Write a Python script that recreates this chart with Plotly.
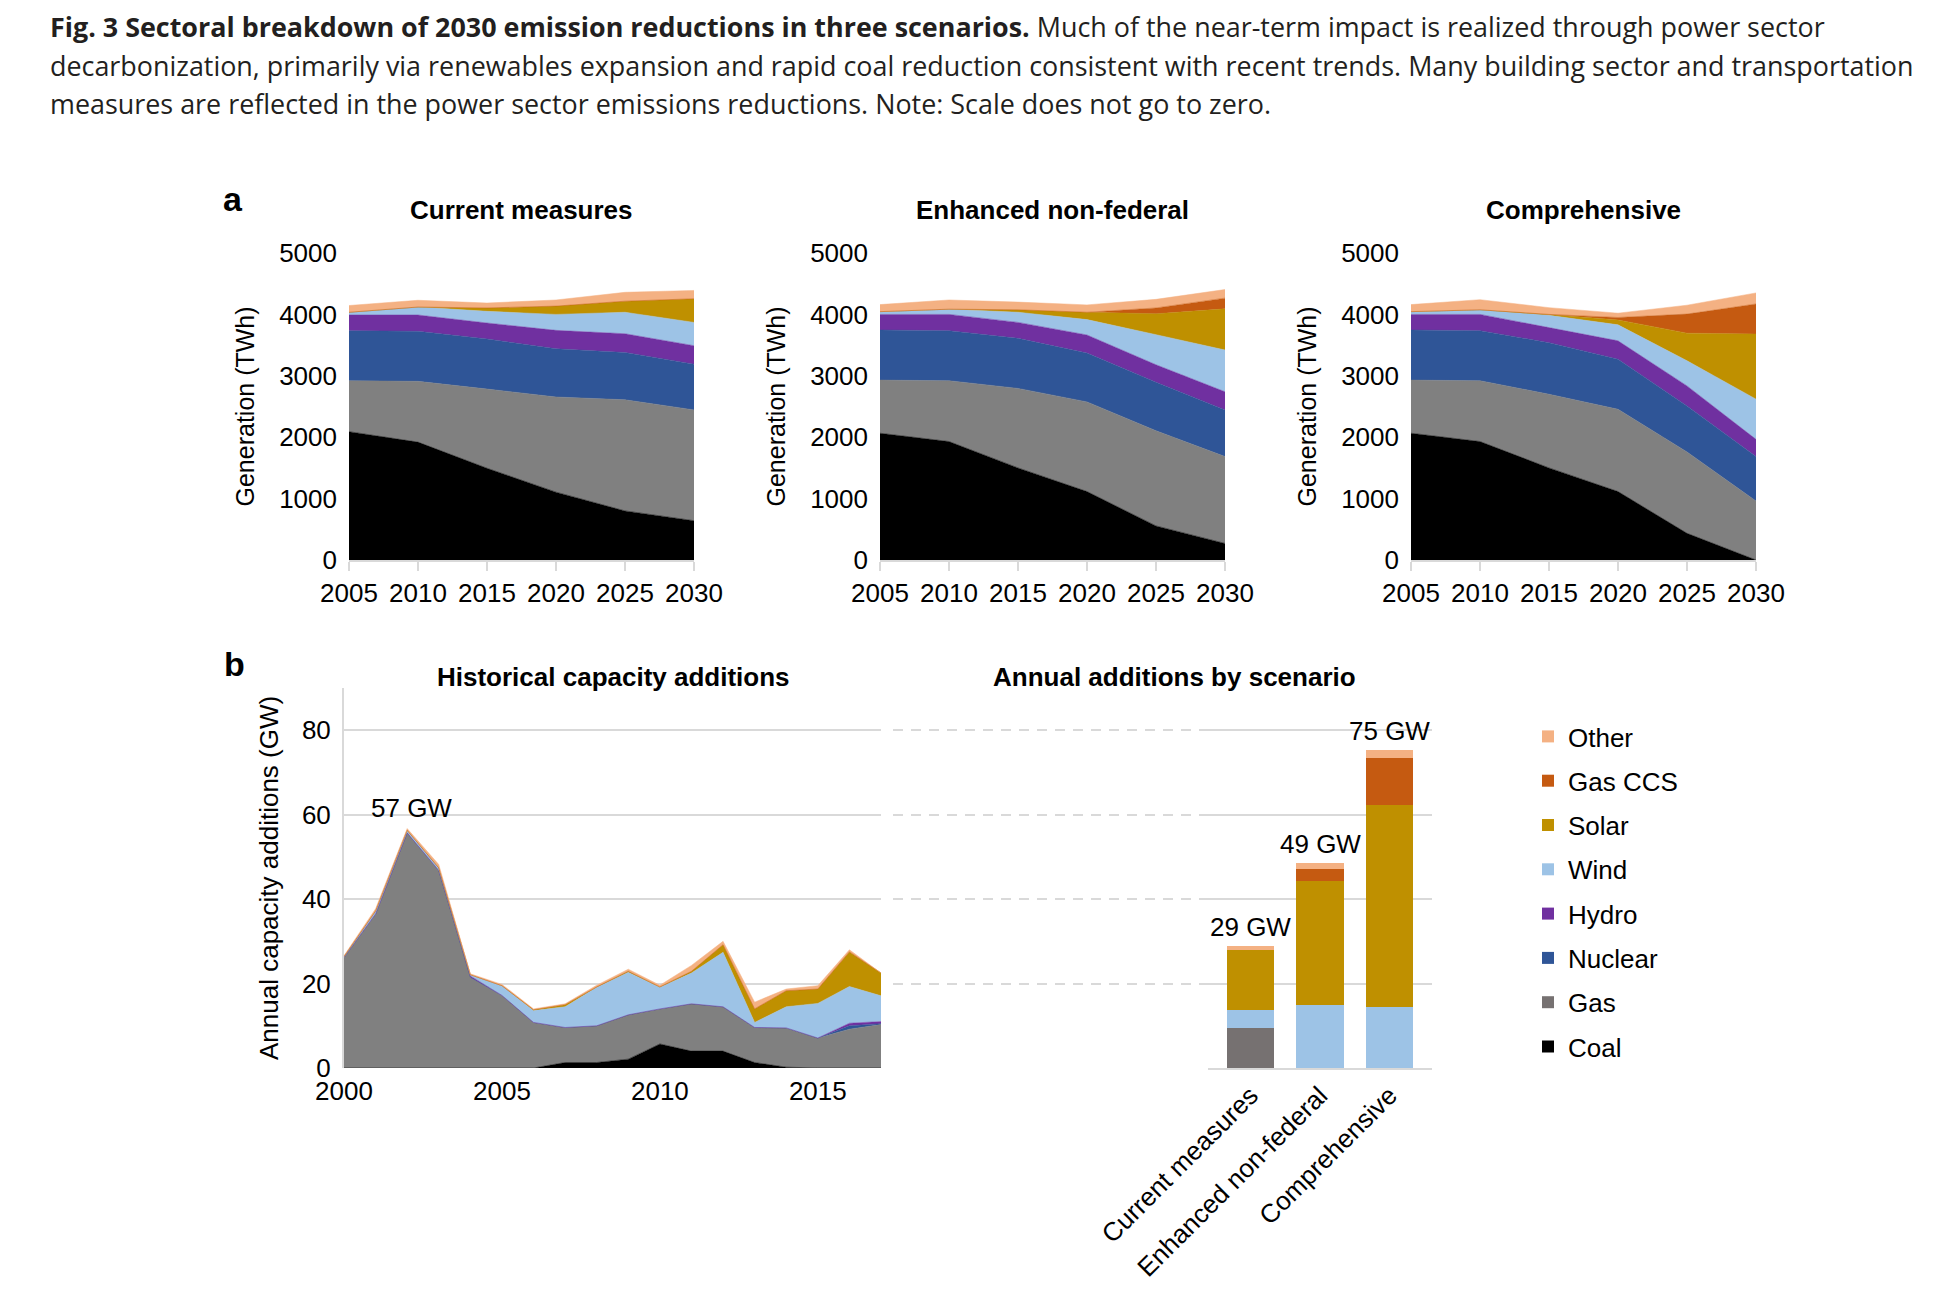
import plotly.graph_objects as go

W, H = 1948, 1294

# ---------------- data ----------------
years_a = [2005, 2010, 2015, 2020, 2025, 2030]
sources = ["Coal", "Gas", "Nuclear", "Hydro", "Wind", "Solar", "Gas CCS", "Other"]
source_colors = ["#000000", "#808080", "#2F5597", "#7030A0", "#9DC3E6", "#BF9000", "#C55A11", "#F4B183"]

# Current measures (TWh)
cm_coal = [2090, 1920, 1495, 1105, 800, 640]
cm_gas = [830, 990, 1290, 1550, 1810, 1805]
cm_nuclear = [815, 815, 815, 785, 770, 745]
cm_hydro = [255, 265, 260, 300, 305, 300]
cm_wind = [45, 130, 190, 260, 350, 380]
cm_solar = [0, 0, 55, 135, 180, 385]
cm_gasccs = [0, 0, 0, 0, 0, 0]
cm_other = [110, 110, 80, 100, 145, 135]

# Enhanced non-federal (TWh)
enf_coal = [2065, 1930, 1500, 1115, 555, 270]
enf_gas = [865, 990, 1295, 1460, 1550, 1415]
enf_nuclear = [815, 815, 815, 795, 790, 760]
enf_hydro = [255, 265, 260, 295, 285, 295]
enf_wind = [45, 85, 165, 250, 490, 680]
enf_solar = [0, 0, 40, 120, 340, 670]
enf_gasccs = [0, 0, 0, 0, 95, 175]
enf_other = [115, 150, 125, 120, 140, 140]

# Comprehensive (TWh)
comp_coal = [2065, 1930, 1500, 1115, 435, 0]
comp_gas = [865, 990, 1200, 1340, 1325, 960]
comp_nuclear = [815, 815, 840, 815, 750, 725]
comp_hydro = [255, 265, 245, 300, 325, 280]
comp_wind = [45, 75, 200, 260, 410, 655]
comp_solar = [0, 0, 15, 80, 450, 1060]
comp_gasccs = [0, 0, 0, 40, 310, 490]
comp_other = [115, 165, 110, 70, 145, 180]

# Historical capacity additions (GW)
years_b = list(range(2000, 2018))
hist_coal = [0, 0, 0, 0, 0, 0, 0, 1.3, 1.3, 2.1, 5.7, 4.0, 4.0, 1.3, 0.2, 0, 0, 0]
hist_gas = [26.2, 36.5, 55.7, 46.8, 21.5, 17.2, 10.8, 8.3, 8.7, 10.5, 8.3, 11.2, 10.5, 8.3, 9.3, 7.1, 9.2, 10.3]
hist_nuclear = [0, 0, 0, 0, 0, 0, 0, 0, 0, 0, 0, 0, 0, 0, 0, 0, 0.8, 0.2]
hist_hydro = [0, 0, 0, 0, 0.3, 0, 0, 0, 0, 0, 0, 0, 0, 0, 0, 0, 0.6, 0.5]
hist_wind = [0.2, 0.7, 0.6, 0.6, 0.3, 2.3, 2.8, 4.9, 9.1, 10.1, 5.1, 7.3, 12.9, 1.2, 5.0, 8.2, 8.7, 6.1]
hist_solar = [0, 0, 0, 0, 0, 0, 0.2, 0.5, 0.1, 0.2, 0.1, 0.4, 1.8, 3.2, 3.8, 3.4, 8.2, 5.4]
hist_gasccs = [0] * 18
hist_other = [0.2, 0.5, 0.4, 0.8, 0.2, 0.3, 0.2, 0.2, 0.4, 0.5, 0.4, 1.4, 0.8, 1.6, 0.4, 0.8, 0.5, 0.0]

# Annual additions by scenario (GW)
bar_categories = ["Current measures", "Enhanced non-federal", "Comprehensive"]
bar_coal = [0, 0, 0]
bar_gas = [9.4, 0, 0]
bar_nuclear = [0, 0, 0]
bar_hydro = [0, 0, 0]
bar_wind = [4.3, 14.9, 14.4]
bar_solar = [14.2, 29.5, 47.9]
bar_gasccs = [0, 2.8, 11.1]
bar_other = [0.9, 1.4, 1.8]
bar_total_labels = ["29 GW", "49 GW", "75 GW"]

scenario_titles = ["Current measures", "Enhanced non-federal", "Comprehensive"]
gen_ticks = [0, 1000, 2000, 3000, 4000, 5000]
cap_ticks = [0, 20, 40, 60, 80]
hist_ticks = [2000, 2005, 2010, 2015]

caption_lines = [
    "<b>Fig. 3 Sectoral breakdown of 2030 emission reductions in three scenarios.</b> Much of the near-term impact is realized through power sector",
    "decarbonization, primarily via renewables expansion and rapid coal reduction consistent with recent trends. Many building sector and transportation",
    "measures are reflected in the power sector emissions reductions. Note: Scale does not go to zero.",
]

# ---------------- figure ----------------
FONT = "Liberation Sans, Arial, sans-serif"
GRID = "#d9d9d9"
fig = go.Figure()

n_src = len(sources)
scen_series = [
    [cm_coal, cm_gas, cm_nuclear, cm_hydro, cm_wind, cm_solar, cm_gasccs, cm_other],
    [enf_coal, enf_gas, enf_nuclear, enf_hydro, enf_wind, enf_solar, enf_gasccs, enf_other],
    [comp_coal, comp_gas, comp_nuclear, comp_hydro, comp_wind, comp_solar, comp_gasccs, comp_other],
]
for i, series in enumerate(scen_series):
    ax = "" if i == 0 else str(i + 1)
    for k, (name, vals, col) in enumerate(zip(sources, series, source_colors)):
        fig.add_trace(go.Scatter(
            x=years_a, y=vals, name=name, mode="lines", stackgroup=f"a{i}",
            line=dict(width=0.5, color=col), fillcolor=col,
            xaxis="x" + ax, yaxis="y" + ax, showlegend=False, legendgroup=name,
            legendrank=n_src - k,
        ))

hist_series = [hist_coal, hist_gas, hist_nuclear, hist_hydro, hist_wind, hist_solar, hist_gasccs, hist_other]
for k, (name, vals, col) in enumerate(zip(sources, hist_series, source_colors)):
    fig.add_trace(go.Scatter(
        x=years_b, y=vals, name=name, mode="lines", stackgroup="hist",
        line=dict(width=0.5, color=col), fillcolor=col,
        xaxis="x4", yaxis="y4", showlegend=False, legendgroup=name,
        legendrank=n_src - k,
    ))

# empty trace so the dashed connector grid is drawn
fig.add_trace(go.Scatter(x=[], y=[], xaxis="x5", yaxis="y5", showlegend=False))

bar_series = [bar_coal, bar_gas, bar_nuclear, bar_hydro, bar_wind, bar_solar, bar_gasccs, bar_other]
bar_colors = list(source_colors)
bar_colors[1] = "#767171"
for k, (name, vals, col) in enumerate(zip(sources, bar_series, bar_colors)):
    fig.add_trace(go.Bar(
        x=bar_categories, y=vals, name=name, marker=dict(color=col, line=dict(width=0)),
        xaxis="x6", yaxis="y6", showlegend=True, legendgroup=name,
        legendrank=n_src - k,
    ))

OFF = 8  # page body margin of the exported html


def px_x(p):
    return (p - OFF) / W


def px_y(p):
    return 1 - (p - OFF) / H


a_left = [349, 880, 1411]
a_w = 345
a_top, a_bot = 253, 560
tick_font = dict(family=FONT, size=26, color="black")

layout = dict(
    width=W, height=H, margin=dict(l=0, r=0, t=0, b=0, autoexpand=False),
    paper_bgcolor="white", plot_bgcolor="white",
    barmode="stack", bargap=0.32,
    font=dict(family=FONT, size=26, color="black"),
    showlegend=True,
    legend=dict(x=px_x(1528), y=px_y(713), xanchor="left", yanchor="top",
                traceorder="grouped", tracegroupgap=7.5,
                font=dict(family=FONT, size=26, color="black"),
                bgcolor="rgba(0,0,0,0)"),
)

for i in range(3):
    ax = "" if i == 0 else str(i + 1)
    layout["xaxis" + ax] = dict(
        domain=[px_x(a_left[i]), px_x(a_left[i] + a_w)], range=[2005, 2030],
        tickvals=years_a, ticks="outside", ticklen=9, tickwidth=2, tickcolor=GRID,
        showline=True, linecolor=GRID, linewidth=2, showgrid=False, zeroline=False,
        tickfont=tick_font, anchor="y" + ax, automargin=False,
    )
    layout["yaxis" + ax] = dict(
        domain=[px_y(a_bot), px_y(a_top)], range=[0, 5000], tickvals=gen_ticks,
        showgrid=True, gridcolor=GRID, gridwidth=2, zeroline=False, showline=False,
        tickfont=tick_font, ticklabelstandoff=11, anchor="x" + ax, automargin=False,
    )

b_top, b_bot = 688, 1068
layout["xaxis4"] = dict(domain=[px_x(344), px_x(881)], range=[2000, 2017], tickvals=hist_ticks,
                        showgrid=False, zeroline=False, showline=False, ticks="",
                        ticklabelstandoff=5,
                        tickfont=tick_font, anchor="y4", automargin=False)
layout["yaxis4"] = dict(domain=[px_y(b_bot), px_y(b_top)], range=[0, 90], tickvals=cap_ticks,
                        showgrid=True, gridcolor=GRID, gridwidth=2, zeroline=False,
                        showline=True, linecolor=GRID, linewidth=2,
                        tickfont=tick_font, ticklabelstandoff=6, anchor="x4", automargin=False)
layout["xaxis5"] = dict(domain=[px_x(893), px_x(1222)], range=[0, 1], visible=False,
                        anchor="y5", automargin=False)
layout["yaxis5"] = dict(domain=[px_y(b_bot), px_y(b_top)], range=[0, 90], tickvals=cap_ticks,
                        showgrid=True, gridcolor=GRID, gridwidth=2, griddash="10px,8px",
                        zeroline=False, showline=False, showticklabels=False, anchor="x5",
                        automargin=False)
layout["xaxis6"] = dict(domain=[px_x(1208), px_x(1432)], type="category", tickangle=-45,
                        showline=True, linecolor=GRID, linewidth=2, showgrid=False, ticks="",
                        tickfont=tick_font, anchor="y6", automargin=False)
layout["yaxis6"] = dict(domain=[px_y(b_bot), px_y(b_top)], range=[0, 90], tickvals=cap_ticks,
                        showgrid=True, gridcolor=GRID, gridwidth=2, zeroline=False,
                        showline=False, showticklabels=False, anchor="x6", automargin=False)

fig.update_layout(**layout)


def paper_text(text, x, y, size, angle=0, xanchor="center", family=FONT, color="black"):
    return dict(text=text, x=px_x(x), y=px_y(y), xref="paper", yref="paper",
                xanchor=xanchor, yanchor="middle", showarrow=False, textangle=angle,
                font=dict(family=family, size=size, color=color))


ann = []
cap_y = [26, 65, 104]
for line, yy in zip(caption_lines, cap_y):
    ann.append(paper_text(line, 48, yy, 26.9, xanchor="left",
                          family="Open Sans, sans-serif", color="#231f20"))
ann.append(paper_text("<b>a</b>", 233, 199, 34))
ann.append(paper_text("<b>b</b>", 234, 664, 34))
for i, t in enumerate(scenario_titles):
    ann.append(paper_text(f"<b>{t}</b>", a_left[i] + a_w / 2, 210, 26))
    ann.append(paper_text("Generation (TWh)", a_left[i] - 105, (a_top + a_bot) / 2, 25, angle=-90))
ann.append(paper_text("<b>Historical capacity additions</b>", 613, 677, 26))
ann.append(paper_text("<b>Annual additions by scenario</b>", 1174, 677, 26))
ann.append(paper_text("Annual capacity additions (GW)", 269, (b_top + b_bot) / 2, 26, angle=-90))

# peak label on historical chart
hist_totals = [sum(v) for v in zip(*hist_series)]
peak_i = max(range(len(hist_totals)), key=lambda k: hist_totals[k])
ann.append(dict(text=f"{round(hist_totals[peak_i])} GW", x=years_b[peak_i], y=hist_totals[peak_i],
                xref="x4", yref="y4", xanchor="center", yanchor="bottom", yshift=4, xshift=4,
                showarrow=False, font=dict(family=FONT, size=26)))

bar_totals = [sum(v) for v in zip(*bar_series)]
for cat, tot, lab in zip(bar_categories, bar_totals, bar_total_labels):
    ann.append(dict(text=lab, x=cat, y=tot, xref="x6", yref="y6", xanchor="center",
                    yanchor="bottom", yshift=2, showarrow=False, font=dict(family=FONT, size=26)))

fig.update_layout(annotations=ann)
fig.write_html("out.html")
